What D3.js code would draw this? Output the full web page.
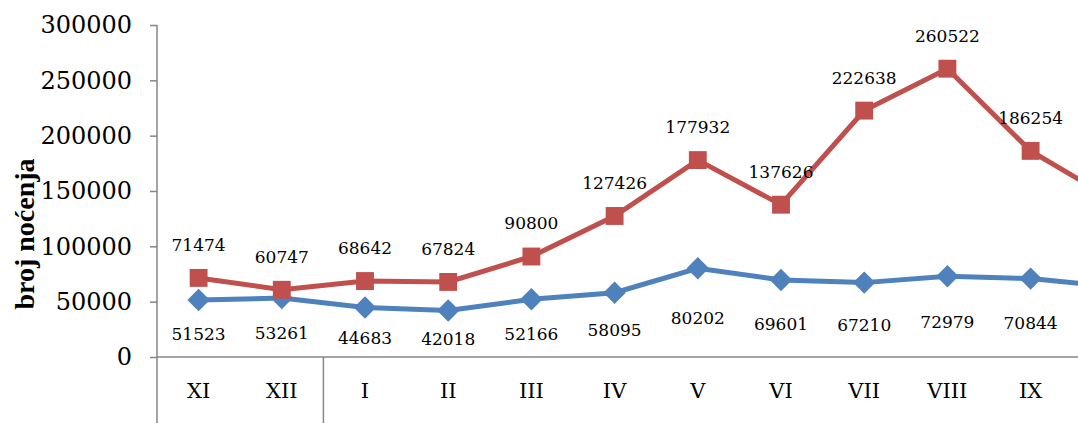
<!DOCTYPE html>
<html>
<head>
<meta charset="utf-8">
<script src="https://cdn.jsdelivr.net/npm/d3@7"></script>
<style>
body{margin:0;background:#fff;overflow:hidden;}
svg{display:block;font-family:"DejaVu Serif",serif;}
</style>
</head>
<body>
<svg id="chart" width="1078" height="423"></svg>
<script>
// months (last one is cut off on the right edge of the picture)
var months=["XI","XII","I","II","III","IV","V","VI","VII","VIII","IX","X"];
var redValues=[71474,60747,68642,67824,90800,127426,177932,137626,222638,260522,186254,142000];
var blueValues=[51523,53261,44683,42018,52166,58095,80202,69601,67210,72979,70844,63600];
var yTicks=[0,50000,100000,150000,200000,250000,300000];
var yLabel="broj noćenja";

var plotLeft=157, plotTop=25, plotBottom=357, band=83.2;

var svg=d3.select("#chart");

var xScale=d3.scaleBand()
    .domain(months)
    .range([plotLeft,plotLeft+band*months.length]);
var yScale=d3.scaleLinear()
    .domain([0,300000])
    .range([plotBottom,plotTop]);

var axisColor="#868686";

// y axis
var yAxis=svg.append("g")
    .attr("transform","translate("+plotLeft+",0)")
    .call(d3.axisLeft(yScale).tickValues(yTicks).tickSize(7).tickPadding(18).tickFormat(d3.format("d")));
yAxis.select(".domain").remove();
yAxis.selectAll("line").attr("stroke",axisColor).attr("stroke-width",1.5);
yAxis.selectAll("text").attr("font-size",24).attr("fill","#000").attr("font-family","DejaVu Serif");

// vertical axis line down to the bottom (multi level axis)
svg.append("line")
    .attr("x1",plotLeft).attr("x2",plotLeft)
    .attr("y1",plotTop).attr("y2",423)
    .attr("stroke",axisColor).attr("stroke-width",1.5);
// year group separator between XII and I
svg.append("line")
    .attr("x1",xScale("I")).attr("x2",xScale("I"))
    .attr("y1",plotBottom).attr("y2",423)
    .attr("stroke",axisColor).attr("stroke-width",1.5);
// x axis
svg.append("line")
    .attr("x1",plotLeft).attr("x2",1078)
    .attr("y1",plotBottom).attr("y2",plotBottom)
    .attr("stroke",axisColor).attr("stroke-width",1.5);

svg.selectAll(".cat")
    .data(months)
    .enter()
    .append("text")
    .attr("class","cat")
    .attr("x",function(d){return xScale(d)+xScale.bandwidth()/2;})
    .attr("y",398)
    .attr("text-anchor","middle")
    .attr("font-size",21)
    .text(function(d){return d;});

// y label
svg.append("text")
    .attr("transform","translate(24,234) rotate(-90)")
    .attr("dy","0.35em")
    .attr("text-anchor","middle")
    .attr("font-family","Liberation Serif")
    .attr("font-weight","bold")
    .attr("font-size",28)
    .text(yLabel);

function cx(i){return xScale(months[i])+xScale.bandwidth()/2;}

var line=d3.line()
    .x(function(d,i){return cx(i);})
    .y(function(d){return yScale(d);});

svg.append("path")
    .datum(blueValues)
    .attr("d",line)
    .attr("fill","none")
    .attr("stroke","#4F81BD")
    .attr("stroke-width",5);
svg.append("path")
    .datum(redValues)
    .attr("d",line)
    .attr("fill","none")
    .attr("stroke","#C0504D")
    .attr("stroke-width",5);

var diamond=d3.symbol().type(d3.symbolSquare).size(250);
svg.selectAll(".bm")
    .data(blueValues)
    .enter()
    .append("path")
    .attr("class","bm")
    .attr("d",diamond)
    .attr("transform",function(d,i){return "translate("+cx(i)+","+yScale(d)+") rotate(45)";})
    .attr("fill","#4F81BD");

var square=d3.symbol().type(d3.symbolSquare).size(320);
svg.selectAll(".rm")
    .data(redValues)
    .enter()
    .append("path")
    .attr("class","rm")
    .attr("d",square)
    .attr("transform",function(d,i){return "translate("+cx(i)+","+yScale(d)+")";})
    .attr("fill","#C0504D");

// data labels
svg.selectAll(".rl")
    .data(redValues)
    .enter()
    .append("text")
    .attr("class","rl")
    .attr("x",function(d,i){return cx(i);})
    .attr("y",function(d){return yScale(d)-33;})
    .attr("dy","0.35em")
    .attr("text-anchor","middle")
    .attr("font-size",17)
    .text(function(d){return d;});

svg.selectAll(".bl")
    .data(blueValues)
    .enter()
    .append("text")
    .attr("class","bl")
    .attr("x",function(d,i){return cx(i);})
    .attr("y",function(d){return (yScale(d)+38+330)/2;})
    .attr("dy","0.35em")
    .attr("text-anchor","middle")
    .attr("font-size",17)
    .text(function(d){return d;});
</script>
</body>
</html>
